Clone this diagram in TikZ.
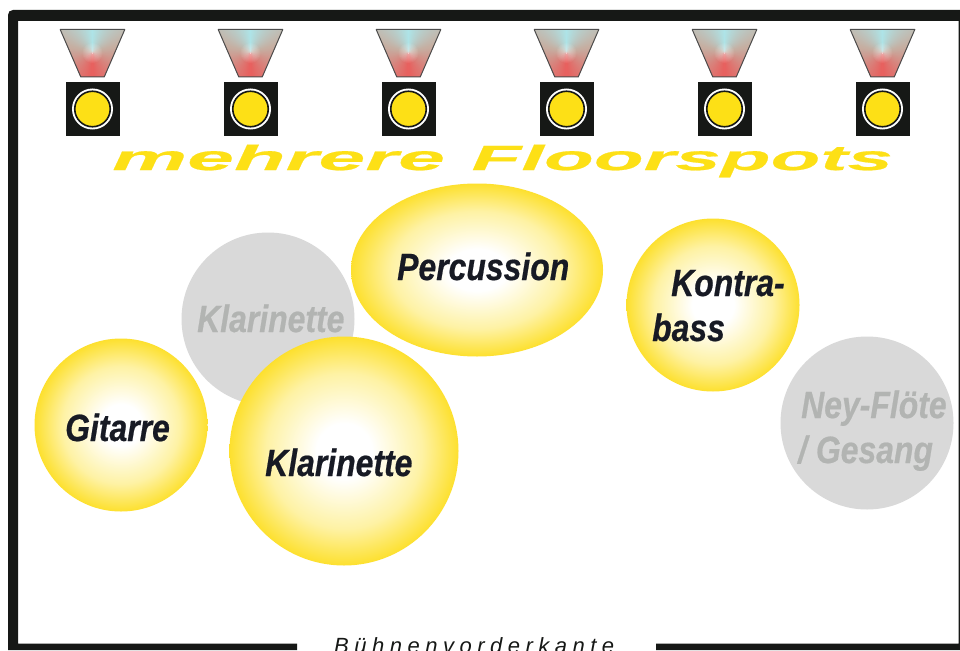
\documentclass[tikz,border=0pt]{standalone}
\usepackage{fontspec}
\usetikzlibrary{shapes.geometric}
\setmainfont{Liberation Sans}
\newfontfamily\lab[FakeStretch=.84,FakeBold=.5]{Liberation Sans}
\newfontfamily\titlea[FakeStretch=2.41,FakeBold=.5]{Liberation Sans}
\newfontfamily\titleb[FakeStretch=2.33,FakeBold=.5]{Liberation Sans}
\newfontfamily\edgefont[LetterSpace=25]{Liberation Sans}
\definecolor{frameblack}{HTML}{161816}
\definecolor{spotyellow}{HTML}{FDE016}
\definecolor{edgeyellow}{HTML}{FDE02E}
\definecolor{midyellow}{HTML}{FEF2A4}
\definecolor{grayfill}{HTML}{D9D9D9}
\definecolor{graytext}{HTML}{B2B4B2}
\definecolor{darktext}{HTML}{171A24}
\definecolor{coneC}{HTML}{AEE6EA}
\definecolor{coneT}{HTML}{C6AFA2}
\definecolor{coneR}{HTML}{E8605E}
\pgfdeclareradialshading{spotshade}{\pgfpoint{0bp}{0bp}}{color(0bp)=(white); color(6bp)=(white); color(17bp)=(midyellow); color(25bp)=(edgeyellow); color(50bp)=(edgeyellow)}
\tikzset{
  yellowdisc/.style={circle,minimum size=#1,inner sep=0pt,shading=spotshade},
  graydisc/.style={circle,minimum size=#1,inner sep=0pt,fill=grayfill},
  darklabel/.style={anchor=base west,font=\lab\bfseries\itshape\fontsize{38}{38}\selectfont,text=darktext,inner sep=0pt},
  graylabel/.style={anchor=base west,font=\lab\bfseries\itshape\fontsize{38}{38}\selectfont,text=graytext,inner sep=0pt},
  lamphousing/.style={minimum size=54,inner sep=0pt,fill=frameblack},
  lampring/.style={circle,minimum size=41,inner sep=0pt,fill=white},
  lampcore/.style={circle,minimum size=35.5,inner sep=0pt,fill=spotyellow,draw=frameblack,line width=1.6},
}
\newcommand{\lamp}[2]{%
  \begin{scope}[shift={(#1,0)}]
    \begin{scope}
      \clip (-32.3,29.5) -- (32.3,29.5) -- (11.7,77) -- (-11.7,77) -- cycle;
      \foreach \a in {0,1,...,180}{
        \pgfmathtruncatemacro{\p}{max(0,100-\a/0.75)}
        \pgfmathtruncatemacro{\q}{max(0,(\a-75)/1.05)}
        \ifnum\a>75
          \colorlet{wedge}{coneR!\q!coneT}
        \else
          \colorlet{wedge}{coneC!\p!coneT}
        \fi
        \fill[wedge] (0,53) -- ({100*sin(\a-1.5)},{53-100*cos(\a-1.5)}) -- ({100*sin(\a+1.5)},{53-100*cos(\a+1.5)}) -- cycle;
        \fill[wedge] (0,53) -- ({-100*sin(\a-1.5)},{53-100*cos(\a-1.5)}) -- ({-100*sin(\a+1.5)},{53-100*cos(\a+1.5)}) -- cycle;
      }
      \foreach \r in {2,3,...,10}{
        \fill[white,opacity=.06] (0,53) circle (\r);
      }
    \end{scope}
    \draw[draw=black!70,line width=1,line join=round] (-32.3,29.5) -- (32.3,29.5) -- (11.7,77) -- (-11.7,77) -- cycle;
    \fill[white] (0,53) circle (.7);
    \node[lamphousing] (house#2) at (0,109) {};
    \node[lampring] (ring#2) at (0,109) {};
    \node[lampcore] (core#2) at (0,109) {};
  \end{scope}
}
\begin{document}
\begin{tikzpicture}[x=1pt,y=-1pt]
\useasboundingbox (0,0) rectangle (960,650);
\fill[white] (0,0) rectangle (960,650);
% frame
\fill[frameblack] (8,650) -- (8,15) .. controls (8,12) and (10,10) .. (13,10) -- (960,10) -- (960,650) -- (656,650) -- (656,643.5) -- (958.7,643.5) -- (958.7,21) -- (18,21) -- (18,643.5) -- (297,643.5) -- (297,650) -- cycle;
% lamps
\lamp{92.5}{a}
\lamp{250.5}{b}
\lamp{408.5}{c}
\lamp{566.5}{d}
\lamp{724.5}{e}
\lamp{882.5}{f}
% title
\node[anchor=base west,inner sep=0pt,text=spotyellow] (title) at (112,170) {\fontsize{35}{35}\selectfont{\titlea\bfseries\itshape mehrere }\hspace{3pt}{\titleb\bfseries\itshape Floorspots}};
% players
\node[graydisc=173] (klarB) at (268,319) {};
\node[graylabel] (klarBt) at (197,332) {Klarinette};
\node[ellipse,minimum width=252,minimum height=173,inner sep=0pt,shading=spotshade] (perc) at (477,270) {};
\node[darklabel] (perct) at (397,280) {Percussion};
\node[yellowdisc=173] (git) at (121,425) {};
\node[darklabel] (gitt) at (65,441) {Gitarre};
\node[yellowdisc=229] (klarA) at (344,451) {};
\node[darklabel] (klarAt) at (265,476) {Klarinette};
\node[yellowdisc=173] (kontra) at (713,305) {};
\node[darklabel] (kontrat) at (671,296) {Kontra-};
\node[darklabel] (basst) at (652,341) {bass};
\node[graydisc=173] (ney) at (867,423) {};
\node[graylabel] (neyt) at (801,418) {Ney-Flöte};
\node[graylabel] (gest) at (798,463) {/ Gesang};
% stage edge
\node[anchor=base west,inner sep=0pt,text=frameblack,font=\edgefont\itshape\fontsize{22}{22}\selectfont] (edge) at (334,653.5) {Bühnenvorderkante};
\end{tikzpicture}
\end{document}
